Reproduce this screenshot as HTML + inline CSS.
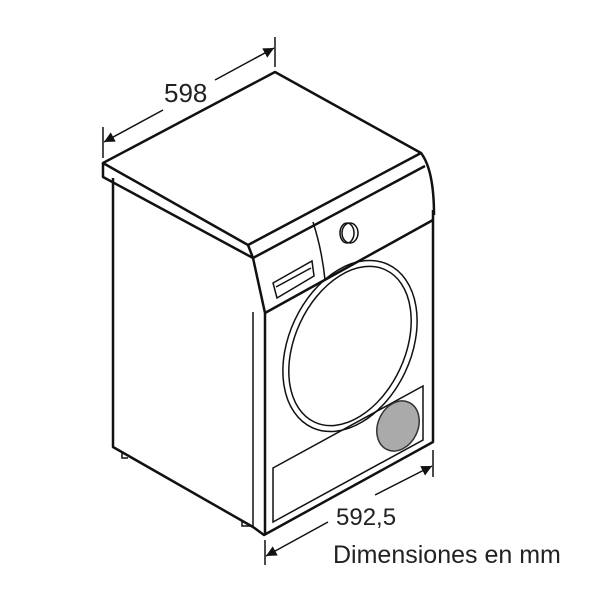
<!DOCTYPE html>
<html><head><meta charset="utf-8"><style>html,body{margin:0;padding:0;background:#fff}svg{display:block}</style></head>
<body>
<svg width="600" height="600" viewBox="0 0 600 600" xmlns="http://www.w3.org/2000/svg">
<defs><marker id="a" viewBox="0 0 10 10" refX="10" refY="5" markerWidth="8" markerHeight="7" orient="auto-start-reverse"><path d="M0,0 L10,5 L0,10z" fill="#111"/></marker></defs>
<g fill="none" stroke="#111" stroke-width="2.5" stroke-linejoin="round">
<path d="M103,163 L275,72 L421,153 L248,245 Z" fill="#fff"/>
<path d="M103,163 L103,177 L253,258 L248,245"/>
<path d="M253,258 L425,166"/>
<path d="M421,153 Q434,170 434,215"/>
<path d="M113,178 L113,447 L253,527 L264,535 L433,442 L433,210"/>
<path d="M253,258 Q259,285 265,313 L265,535" />
<path d="M253,527 L253,312" stroke-width="1.5"/>
<path d="M265,313 L433,220"/>
</g>
<g fill="none" stroke="#111" stroke-width="1.5">
<path d="M313,222 Q322,250 325,280"/>
<path d="M273,283 L312,261 L314,276 L277,298 Z"/>
<path d="M276,287 L311,268"/>
<ellipse cx="350" cy="233" rx="8" ry="10"/>
<ellipse cx="347" cy="233" rx="7" ry="10"/>
<ellipse cx="350" cy="346" rx="61" ry="90" transform="rotate(25 350 346)"/>
<ellipse cx="350" cy="346" rx="55" ry="84" transform="rotate(25 350 346)"/>
<path d="M273,468 L423,386 L423,440 L273,522 Z"/>
<path d="M122,452 L122,458 L128,458 M242,520 L242,526 L250,526"/>
</g>
<ellipse cx="398" cy="426" rx="20" ry="26" transform="rotate(25 398 426)" fill="#aaa" stroke="#333" stroke-width="1.5"/>
<g stroke="#111" stroke-width="1.5" fill="none">
<path d="M103,127 L103,158 M275,37 L275,67 M265,540 L265,565 M433,450 L433,477"/>
<path d="M163,110 L104,142" marker-end="url(#a)"/>
<path d="M215,80 L274,48" marker-end="url(#a)"/>
<path d="M328,522 L266,556" marker-end="url(#a)"/>
<path d="M375,495 L432,466" marker-end="url(#a)"/>
</g>
<g font-family="Liberation Sans, sans-serif" fill="#222">
<text x="164" y="102" font-size="26">598</text>
<text x="336" y="525" font-size="24">592,5</text>
<text x="333" y="563" font-size="25">Dimensiones en mm</text>
</g>
</svg>
</body></html>
